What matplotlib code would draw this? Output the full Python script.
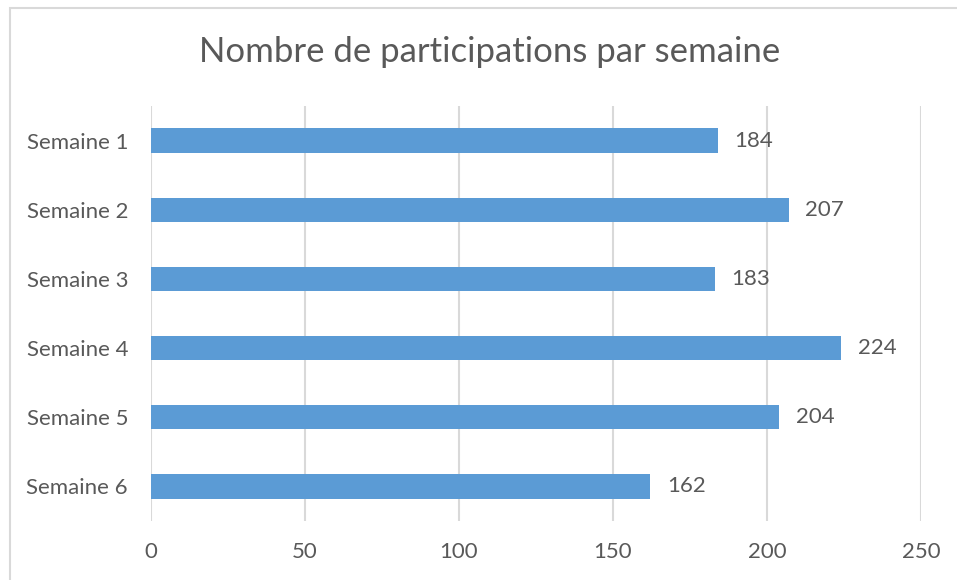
import matplotlib
matplotlib.use("Agg")
import matplotlib.pyplot as plt
from matplotlib.patches import Rectangle

weeks = ["Semaine 1", "Semaine 2", "Semaine 3", "Semaine 4", "Semaine 5", "Semaine 6"]
participations = [184, 207, 183, 224, 204, 162]
x_ticks = [0, 50, 100, 150, 200, 250]

TEXT = "#595959"
BAR = "#5b9bd5"
GRID = "#d9d9d9"

plt.rcParams["font.family"] = ["Lato", "DejaVu Sans"]

W, H = 957, 580
fig = plt.figure(figsize=(W / 100, H / 100), dpi=100)
fig.patch.set_facecolor("white")

# chart frame: only top and left edges are inside the image
frame = Rectangle((9.5 / W, -0.05), 1.1, 1.05 - 7.5 / H, transform=fig.transFigure,
                  fill=False, edgecolor="#d9d9d9", linewidth=1.5)
fig.patches.append(frame)

ax = fig.add_axes([151 / W, 1 - 521 / H, (921 - 151) / W, (521 - 106) / H])
y = list(range(len(weeks)))
ax.barh(y, participations, height=0.35, color=BAR, zorder=3)
for yi, v in zip(y, participations):
    ax.text(v + 5.5, yi, str(v), va="center", ha="left", fontsize=16, color=TEXT)

ax.set_xlim(0, 250)
ax.set_ylim(len(weeks) - 0.5, -0.5)
ax.set_xticks(x_ticks)
ax.set_yticks(y)
ax.set_yticklabels(weeks)
ax.tick_params(axis="both", length=0, labelsize=16, labelcolor=TEXT)
ax.tick_params(axis="x", pad=15)
ax.tick_params(axis="y", pad=16.5)
ax.grid(axis="x", color=GRID, linewidth=1.5, zorder=0)
for s in ax.spines.values():
    s.set_visible(False)

fig.text(490 / W, 1 - 52 / H, "Nombre de participations par semaine",
         ha="center", va="center", fontsize=25, color=TEXT)

fig.savefig("out.png", dpi=100)
